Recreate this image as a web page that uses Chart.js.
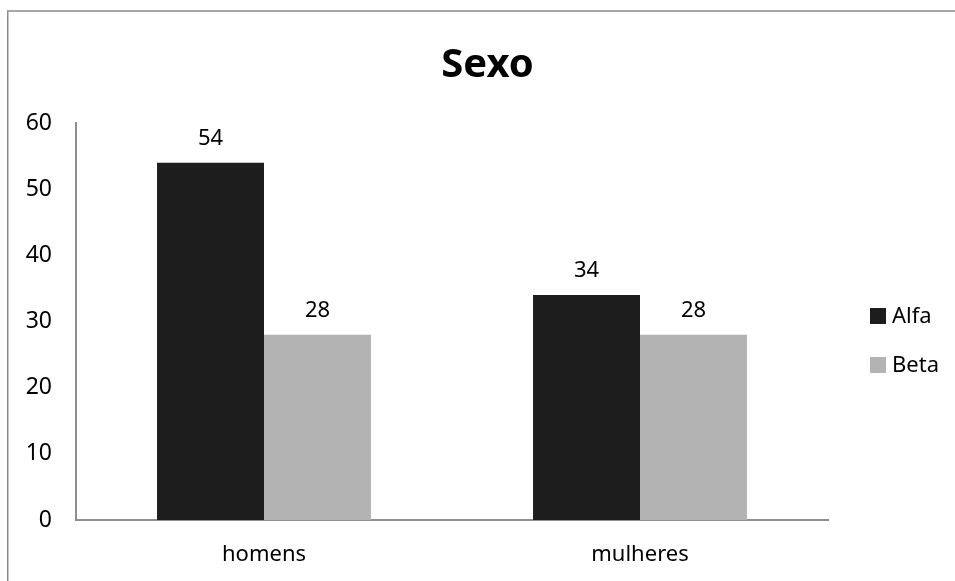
<!DOCTYPE html>
<html>
<head>
<meta charset="utf-8">
<script src="https://cdn.jsdelivr.net/npm/chart.js@4/dist/chart.umd.min.js"></script>
<style>
  html, body { margin: 0; padding: 0; background: #fff; overflow: hidden; }
  canvas { display: block; }
</style>
</head>
<body>
<canvas id="c" width="955" height="581"></canvas>
<script>
// Respondents by sex, per group
const chartTitle = 'Sexo';
const categories = ['homens', 'mulheres'];
const seriesNames = ['Alfa', 'Beta'];
const alfaValues = [54, 34];
const betaValues = [28, 28];
const yTicks = [0, 10, 20, 30, 40, 50, 60];

const FONT = '"Noto Sans", "Open Sans", sans-serif';
const AXIS_GREY = '#8e8e8e';

// Outer frame, title, value labels and the side legend
const decorations = {
  id: 'decorations',
  beforeDraw(chart) {
    const ctx = chart.ctx;
    ctx.save();
    ctx.strokeStyle = '#8a8a8a';
    ctx.lineWidth = 1.5;
    ctx.strokeRect(7.75, 11, chart.width + 50, chart.height + 50);
    ctx.restore();
  },
  afterDatasetsDraw(chart) {
    const ctx = chart.ctx;
    ctx.save();
    ctx.fillStyle = '#000';
    ctx.font = '22px ' + FONT;
    ctx.textAlign = 'center';
    ctx.textBaseline = 'alphabetic';
    chart.data.datasets.forEach((ds, i) => {
      chart.getDatasetMeta(i).data.forEach((bar, j) => {
        ctx.fillText(String(ds.data[j]), bar.x, bar.y - 18);
      });
    });
    ctx.restore();
  },
  afterDraw(chart) {
    const ctx = chart.ctx;
    const area = chart.chartArea;
    ctx.save();
    // title, centred on the frame
    ctx.fillStyle = '#000';
    ctx.font = 'bold 40px ' + FONT;
    ctx.textAlign = 'center';
    ctx.textBaseline = 'alphabetic';
    ctx.fillText(chartTitle, (20 + chart.width) / 2, 77);
    // legend
    ctx.font = '22px ' + FONT;
    ctx.textAlign = 'left';
    const boxX = area.right + 42;
    const firstTop = area.top + 185;
    chart.data.datasets.forEach((ds, i) => {
      const top = firstTop + i * 49;
      ctx.fillStyle = ds.backgroundColor;
      ctx.fillRect(boxX, top, 16, 16);
      ctx.fillStyle = '#000';
      ctx.fillText(ds.label, boxX + 22, top + 15);
    });
    ctx.restore();
  }
};

new Chart(document.getElementById('c'), {
  type: 'bar',
  data: {
    labels: categories,
    datasets: [
      { label: seriesNames[0], data: alfaValues, backgroundColor: '#1d1d1d' },
      { label: seriesNames[1], data: betaValues, backgroundColor: '#b3b3b3' }
    ]
  },
  options: {
    responsive: false,
    animation: false,
    devicePixelRatio: 1,
    layout: { padding: { left: 0, right: 127, top: 123, bottom: 0 } },
    datasets: { bar: { categoryPercentage: 0.569, barPercentage: 1.0 } },
    plugins: {
      legend: { display: false },
      title: { display: false },
      tooltip: { enabled: false }
    },
    scales: {
      x: {
        grid: { display: false, drawTicks: false },
        border: { color: AXIS_GREY, width: 2 },
        ticks: { color: '#000', font: { family: FONT, size: 22 }, padding: 22 },
        afterFit(scale) { scale.height = 61; }
      },
      y: {
        min: yTicks[0],
        max: yTicks[yTicks.length - 1],
        afterBuildTicks(scale) { scale.ticks = yTicks.map(v => ({ value: v })); },
        grid: { display: false, drawTicks: false },
        border: { color: AXIS_GREY, width: 2 },
        ticks: { color: '#000', font: { family: FONT, size: 23 }, padding: 24 },
        afterFit(scale) { scale.width = 76; }
      }
    }
  },
  plugins: [decorations]
});
</script>
</body>
</html>
